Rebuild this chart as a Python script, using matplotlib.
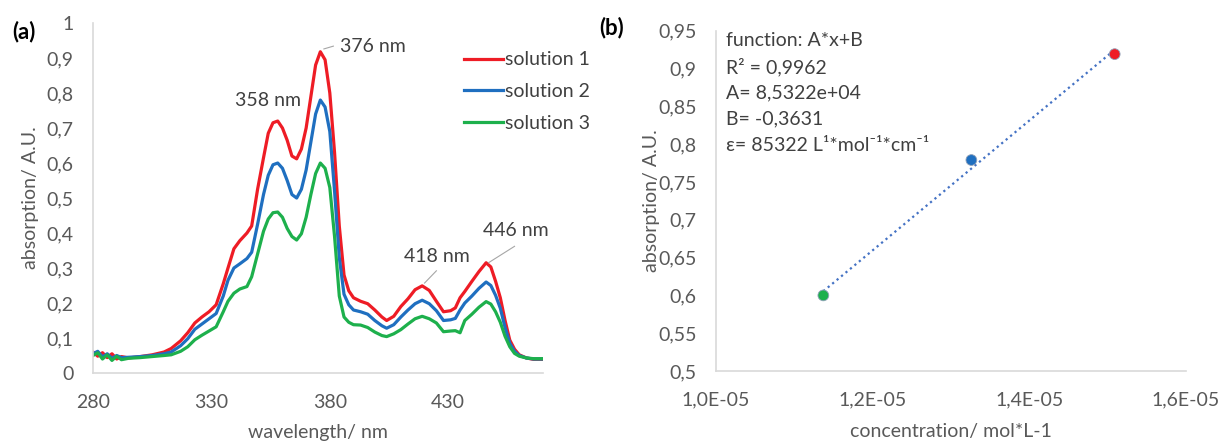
import matplotlib
matplotlib.use("Agg")
import matplotlib.pyplot as plt
import numpy as np
from matplotlib.ticker import FuncFormatter, MultipleLocator

plt.rcParams['font.family'] = ['Lato', 'DejaVu Sans']

# --- (a) absorption spectra ---
wavelength = [280, 282, 284, 286, 288, 290, 292, 295, 300, 305, 310, 313, 317, 320, 323,
              326, 329, 332, 335, 337, 339.5, 342, 345, 347, 349.5, 352, 354, 356, 358, 360,
              362, 364, 366, 368, 370, 372, 374, 376, 378, 380, 382, 384, 386, 388, 390,
              393, 396, 399, 402, 404, 407, 410, 413, 416, 419, 422, 425, 428, 431, 433,
              435, 437, 440, 443, 446, 448, 450, 452, 454, 456, 458, 460, 463, 466, 470]

solution_1 = [0.060, 0.048, 0.058, 0.044, 0.055, 0.040, 0.047, 0.043, 0.047, 0.052, 0.060, 0.070,
              0.092, 0.115, 0.143, 0.160, 0.175, 0.195, 0.255, 0.300, 0.355, 0.378, 0.400, 0.420,
              0.525, 0.615, 0.685, 0.715, 0.720, 0.700, 0.665, 0.620, 0.612, 0.640, 0.700, 0.790,
              0.880, 0.918, 0.895, 0.800, 0.630, 0.420, 0.280, 0.235, 0.215, 0.205, 0.198, 0.180,
              0.160, 0.150, 0.162, 0.190, 0.212, 0.238, 0.249, 0.236, 0.205, 0.175, 0.178, 0.186,
              0.215, 0.233, 0.262, 0.290, 0.315, 0.303, 0.262, 0.215, 0.150, 0.094, 0.068, 0.052,
              0.043, 0.039, 0.039]

solution_2 = [0.055, 0.062, 0.046, 0.055, 0.042, 0.050, 0.044, 0.045, 0.047, 0.050, 0.055, 0.060,
              0.078, 0.098, 0.125, 0.140, 0.155, 0.170, 0.220, 0.265, 0.300, 0.312, 0.327, 0.345,
              0.425, 0.510, 0.565, 0.595, 0.600, 0.585, 0.550, 0.510, 0.500, 0.525, 0.580, 0.660,
              0.740, 0.780, 0.760, 0.690, 0.520, 0.330, 0.225, 0.195, 0.180, 0.175, 0.168, 0.150,
              0.135, 0.128, 0.138, 0.160, 0.180, 0.198, 0.208, 0.198, 0.178, 0.150, 0.152, 0.156,
              0.180, 0.200, 0.220, 0.242, 0.260, 0.250, 0.222, 0.185, 0.130, 0.085, 0.062, 0.050,
              0.043, 0.040, 0.040]

solution_3 = [0.050, 0.058, 0.040, 0.052, 0.036, 0.048, 0.038, 0.042, 0.044, 0.047, 0.050, 0.052,
              0.062, 0.075, 0.095, 0.108, 0.120, 0.132, 0.175, 0.205, 0.228, 0.240, 0.247, 0.275,
              0.340, 0.405, 0.440, 0.458, 0.460, 0.445, 0.413, 0.390, 0.380, 0.398, 0.445, 0.510,
              0.570, 0.600, 0.585, 0.530, 0.390, 0.220, 0.160, 0.145, 0.138, 0.137, 0.130, 0.117,
              0.107, 0.104, 0.112, 0.124, 0.140, 0.155, 0.162, 0.155, 0.143, 0.118, 0.120, 0.121,
              0.115, 0.150, 0.168, 0.188, 0.204, 0.197, 0.175, 0.145, 0.105, 0.075, 0.056, 0.048,
              0.043, 0.041, 0.041]

series_names = ["solution 1", "solution 2", "solution 3"]
series_colors = ["#EE1C25", "#1F6FC0", "#1DB04C"]
wl_ticks = [280, 330, 380, 430]

# --- (b) calibration ---
concentration = [1.137e-5, 1.326e-5, 1.509e-5]
absorption_max = [0.600, 0.779, 0.919]
fit_lines = ["function: A*x+B", "R² = 0,9962", "A= 8,5322e+04", "B= -0,3631",
             "ε= 85322 L¹*mol⁻¹*cm⁻¹"]

grey_txt = "#595959"
lab_col = "#404040"
spine_col = "#D9D9D9"
FS = 14


def comma(fmt):
    return FuncFormatter(lambda v, p: fmt(v).replace('.', ','))


def style(ax):
    for s in ["top", "right"]:
        ax.spines[s].set_visible(False)
    for s in ["left", "bottom"]:
        ax.spines[s].set_color(spine_col)
        ax.spines[s].set_linewidth(1.2)
    ax.tick_params(length=0, labelsize=FS, colors=grey_txt)


fig = plt.figure(figsize=(12.19, 4.43), dpi=100)

ax1 = fig.add_axes([0.0763, 0.158, 0.3691, 0.790])
for vals, name, col in zip([solution_1, solution_2, solution_3], series_names, series_colors):
    ax1.plot(wavelength, vals, color=col, lw=2.3, label=name)
ax1.set_xlim(280, 470)
ax1.set_ylim(0, 1)
ax1.set_xticks(wl_ticks)
ax1.yaxis.set_major_locator(MultipleLocator(0.1))
ax1.yaxis.set_major_formatter(comma(lambda v: f"{round(v, 2):g}"))
style(ax1)
ax1.tick_params(axis='x', pad=15)
ax1.tick_params(axis='y', pad=14)
ax1.set_xlabel("wavelength/ nm", fontsize=FS, color=grey_txt)
ax1.set_ylabel("absorption/ A.U.", fontsize=FS, color=grey_txt)
ax1.xaxis.set_label_coords(0.5, -0.145)
ax1.yaxis.set_label_coords(-0.12, 0.5)

ax1.text(354, 0.78, "358 nm", ha='center', va='center', fontsize=FS, color=lab_col)
ax1.text(398, 0.934, "376 nm", ha='center', va='center', fontsize=FS, color=lab_col)
ax1.plot([377.5, 381.5], [0.926, 0.934], color="#A6A6A6", lw=0.8)
ax1.text(425, 0.332, "418 nm", ha='center', va='center', fontsize=FS, color=lab_col)
ax1.plot([420, 425], [0.257, 0.292], color="#A6A6A6", lw=0.8)
ax1.text(458.5, 0.406, "446 nm", ha='center', va='center', fontsize=FS, color=lab_col)
ax1.plot([447, 458], [0.315, 0.362], color="#A6A6A6", lw=0.8)

fig.legend(*ax1.get_legend_handles_labels(), loc='upper left',
           bbox_to_anchor=(0.3806, 0.884), frameon=False, fontsize=FS,
           handlelength=2.0, handletextpad=0.1, labelspacing=0.75,
           borderpad=0, borderaxespad=0, labelcolor=lab_col)

fig.text(0.010, 0.929, "(a)", fontsize=16, fontweight='bold', va='center')

ax2 = fig.add_axes([0.5874, 0.1625, 0.3855, 0.7682])
coef = np.polyfit(concentration, absorption_max, 1)
xs = np.array([min(concentration), max(concentration)])
ax2.plot(xs, np.polyval(coef, xs), ls=(0, (1, 1.6)), color="#4472C4", lw=1.6)
ax2.scatter(concentration, absorption_max, s=60, c=series_colors[::-1], edgecolors="#8EA0B8",
            linewidths=0.6, zorder=3)
ax2.set_xlim(1.0e-5, 1.6e-5)
ax2.set_ylim(0.5, 0.95)
ax2.xaxis.set_major_locator(MultipleLocator(0.2e-5))
ax2.yaxis.set_major_locator(MultipleLocator(0.05))
ax2.xaxis.set_major_formatter(comma(lambda v: f"{v:.1E}"))
ax2.yaxis.set_major_formatter(comma(lambda v: f"{round(v, 2):g}"))
style(ax2)
ax2.tick_params(axis='x', pad=15)
ax2.tick_params(axis='y', pad=14)
ax2.set_xlabel("concentration/ mol*L-1", fontsize=FS, color=grey_txt)
ax2.set_ylabel("absorption/ A.U.", fontsize=FS, color=grey_txt)
ax2.xaxis.set_label_coords(0.5, -0.153)
ax2.yaxis.set_label_coords(-0.12, 0.5)

for i, line in enumerate(fit_lines):
    fig.text(726 / 1219, 1 - (40.7 + 26.1 * i) / 443, line, fontsize=FS,
             color=lab_col, va='center', ha='left')

fig.text(0.4915, 0.937, "(b)", fontsize=16, fontweight='bold', va='center')

fig.savefig("out.png", dpi=100)
